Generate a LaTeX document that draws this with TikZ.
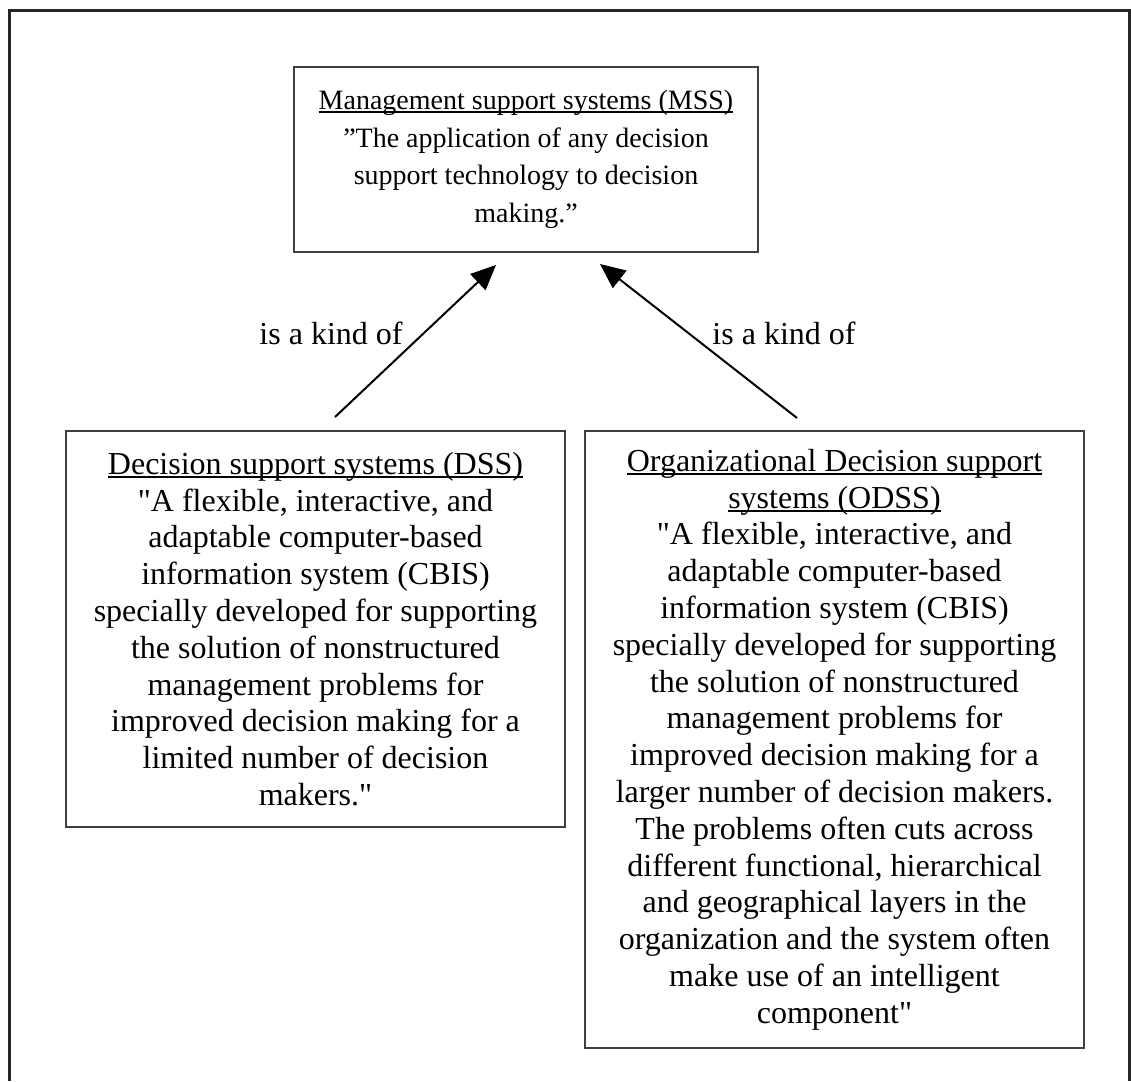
\documentclass[tikz,border=0pt]{standalone}
\usepackage{fontspec}
\setmainfont{Liberation Serif}[Ligatures=TeXOff]
\usetikzlibrary{arrows.meta}
% underline drawn close to the baseline, across descenders
\newlength\ulwidth
\newcommand\ulin[1]{\settowidth\ulwidth{#1}\rlap{\rule[-0.11em]{\ulwidth}{0.055em}}#1}
\begin{document}
\begin{tikzpicture}[x=1pt,y=-1pt,
  txt/.style={font=\fontsize{32}{36.8}\selectfont},
  box/.style={txt, draw=black!75, line width=2pt, align=center, inner sep=0pt},
  isa/.style={-{Triangle[length=25pt,width=22pt]}, line width=2pt}
]
\useasboundingbox (0,0) rectangle (1131,1081);
% open frame around the whole figure
\draw[line width=3pt, black!85] (9,1081) -- (9,11) -- (1129.5,11) -- (1129.5,1081);

\node[box, font=\fontsize{28}{37.5}\selectfont, minimum width=464pt, minimum height=185pt] (mss) at (526,159.5)
  {\ulin{Management support systems (MSS)}\\
   ”The application of any decision\\
   support technology to decision\\
   making.”};

\node[box, minimum width=499pt, minimum height=396pt] (dss) at (315.5,629)
  {\ulin{Decision support systems (DSS)}\\
   "A flexible, interactive, and\\
   adaptable computer-based\\
   information system (CBIS)\\
   specially developed for supporting\\
   the solution of nonstructured\\
   management problems for\\
   improved decision making for a\\
   limited number of decision\\
   makers."};

\node[box, minimum width=499pt, minimum height=617pt] (odss) at (834.5,739.5)
  {\ulin{Organizational Decision support}\\
   \ulin{systems (ODSS)}\\
   "A flexible, interactive, and\\
   adaptable computer-based\\
   information system (CBIS)\\
   specially developed for supporting\\
   the solution of nonstructured\\
   management problems for\\
   improved decision making for a\\
   larger number of decision makers.\\
   The problems often cuts across\\
   different functional, hierarchical\\
   and geographical layers in the\\
   organization and the system often\\
   make use of an intelligent\\
   component"};

% arrow end points, just off the box edges
\coordinate (dssout) at (335,417);
\coordinate (mssinl) at (496,265);
\coordinate (odssout) at (797,418);
\coordinate (mssinr) at (600,264);

\draw[isa] (dssout) -- (mssinl);
\draw[isa] (odssout) -- (mssinr);

\node[txt] (kindl) at (331,333) {is a kind of};
\node[txt] (kindr) at (784,333) {is a kind of};
\end{tikzpicture}
\end{document}
